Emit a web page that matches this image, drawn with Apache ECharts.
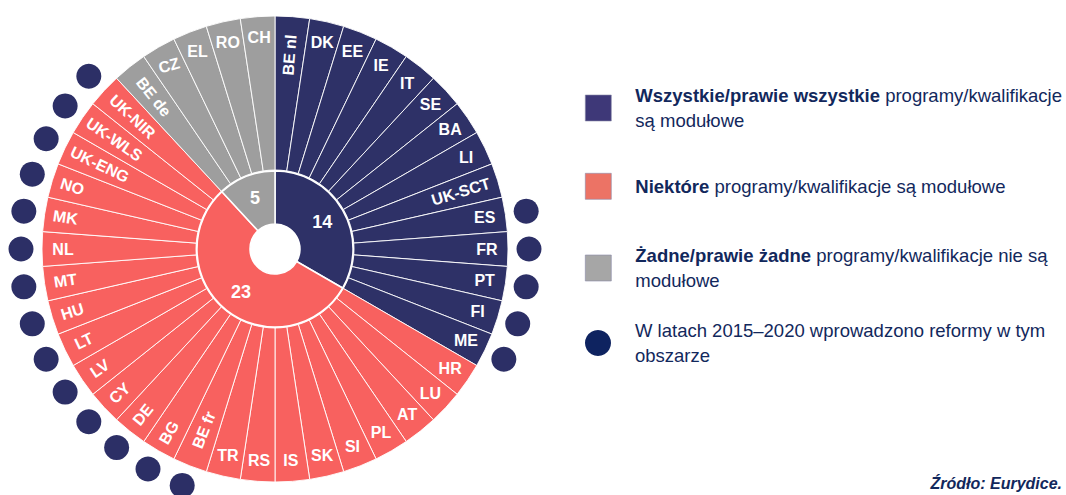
<!DOCTYPE html>
<html>
<head>
<meta charset="utf-8">
<script src="https://cdn.jsdelivr.net/npm/echarts@6/dist/echarts.min.js"></script>
<style>
html,body{margin:0;padding:0;background:#fff;}
#chart{width:1066px;height:495px;}
</style>
</head>
<body>
<div id="chart"></div>
<script>
// ---- data ----
const allModular = ['BE nl','DK','EE','IE','IT','SE','BA','LI','UK-SCT','ES','FR','PT','FI','ME'];
const someModular = ['HR','LU','AT','PL','SI','SK','IS','RS','TR','BE fr','BG','DE','CY','LV','LT','HU','MT','NL','MK','NO','UK-ENG','UK-WLS','UK-NIR'];
const noneModular = ['BE de','CZ','EL','RO','CH'];
const reformCountries = ['ES','FR','PT','FI','ME','BE fr','BG','DE','CY','LV','LT','HU','MT','NL','MK','NO','UK-ENG','UK-WLS','UK-NIR'];
const groupBold = ['Wszystkie/prawie wszystkie','Niektóre','Żadne/prawie żadne'];
const groupRest = [' programy/kwalifikacje\nsą modułowe',' programy/kwalifikacje są modułowe',' programy/kwalifikacje nie są\nmodułowe'];
const reformLabel = 'W latach 2015–2020 wprowadzono reformy w tym\nobszarze';
const sourceText = 'Źródło: Eurydice.';

// ---- styles ----
const FONT = "'Liberation Sans', Arial, sans-serif";
const sliceColors = ['#2e3167', '#f8615f', '#9e9e9e'];
const legendColors = ['#3e3878', '#ec7365', '#a6a6a6'];
const dotColor = '#2c2f66';
const textColor = '#12285c';
const CENTER = [275, 249];
const labelRotate = {
  'BE nl':'radial','UK-SCT':'radial','BE fr':'radial','BG':'radial','DE':'radial','CY':'radial',
  'LV':'radial','LT':'radial','HU':'radial','MT':'radial','NL':'radial','MK':'radial','NO':'radial',
  'UK-ENG':'radial','UK-WLS':'radial','UK-NIR':'radial','BE de':'radial','CZ':15
};

const groups = [allModular, someModular, noneModular];
const countries = [].concat(allModular, someModular, noneModular);
const groupIndex = {};
groups.forEach((g, gi) => g.forEach(c => groupIndex[c] = gi));

const outerData = countries.map(c => ({
  name: c, value: 1, itemStyle: { color: sliceColors[groupIndex[c]] }
}));
function labelData(isLong) {
  return countries.map(c => {
    const long = c.length > 2;
    return {
      name: c, value: 1,
      label: { show: long === isLong, rotate: labelRotate[c] !== undefined ? labelRotate[c] : 0 }
    };
  });
}
const innerData = groups.map((g, gi) => ({
  name: groupBold[gi], value: g.length, itemStyle: { color: sliceColors[gi] }
}));

const labelSeriesBase = {
  type: 'pie', center: CENTER, silent: true, z: 4,
  avoidLabelOverlap: false, emphasis: { disabled: true },
  itemStyle: { color: 'rgba(0,0,0,0)', borderWidth: 0 },
  labelLine: { show: false },
  label: { position: 'inside', color: '#fff', fontWeight: 'bold', fontSize: 16, fontFamily: FONT }
};

function makeLegend(name, top, icon, color) {
  return {
    top: top, left: 585, padding: 0, orient: 'vertical',
    itemWidth: 26, itemHeight: 26, icon: icon, selectedMode: false,
    data: [{ name: name, icon: icon, itemStyle: { color: color, opacity: 1, borderColor: '#8a8aa8', borderWidth: icon === 'rect' ? 0.6 : 0 } }],
    formatter: function (n) {
      const idx = groupBold.indexOf(n);
      if (idx >= 0) return '{b|' + n + '}' + groupRest[idx];
      return n;
    },
    textStyle: {
      fontFamily: FONT, fontSize: 18.5, color: textColor, lineHeight: 25, padding: [0, 0, 0, 19],
      rich: { b: { fontFamily: FONT, fontSize: 18.5, fontWeight: 'bold', color: textColor, lineHeight: 25 } }
    }
  };
}

const chart = echarts.init(document.getElementById('chart'), null, { renderer: 'svg' });
chart.setOption({
  animation: false,
  backgroundColor: '#fff',
  title: {
    text: sourceText, right: 4, top: 475, padding: 0,
    textStyle: { fontFamily: FONT, fontSize: 16, fontStyle: 'italic', fontWeight: 'bold', color: textColor }
  },
  legend: [
    makeLegend(groupBold[0], 83, 'rect', legendColors[0]),
    makeLegend(groupBold[1], 173, 'rect', legendColors[1]),
    makeLegend(groupBold[2], 243, 'rect', legendColors[2]),
    makeLegend(reformLabel, 318, 'circle', '#0e2360')
  ],
  polar: { center: CENTER, radius: [0, 270] },
  radiusAxis: { type: 'value', min: 0, max: 270, show: false },
  angleAxis: { type: 'category', data: countries, startAngle: 90, clockwise: true, show: false },
  series: [
    {
      name: 'groups', type: 'pie', center: CENTER, radius: [25, 78], silent: true,
      avoidLabelOverlap: false, emphasis: { disabled: true }, z: 3,
      data: innerData,
      itemStyle: { borderColor: '#fff', borderWidth: 1.5 },
      labelLine: { show: false },
      label: { show: true, position: 'inside', formatter: '{c}', color: '#fff', fontWeight: 'bold', fontSize: 18, fontFamily: FONT }
    },
    {
      name: 'countries', type: 'pie', center: CENTER, radius: [79, 233], silent: true,
      avoidLabelOverlap: false, emphasis: { disabled: true }, z: 2,
      data: outerData,
      itemStyle: { borderColor: 'rgba(255,255,255,0.9)', borderWidth: 1 },
      label: { show: false }, labelLine: { show: false }
    },
    Object.assign({}, labelSeriesBase, { name: 'labelsShort', radius: [185, 233], data: labelData(false) }),
    Object.assign({}, labelSeriesBase, { name: 'labelsLong', radius: [150, 233], data: labelData(true) }),
    {
      name: reformLabel, type: 'scatter', coordinateSystem: 'polar', silent: true,
      symbol: 'circle', symbolSize: 25, itemStyle: { color: dotColor, opacity: 1 },
      data: reformCountries.map(c => [254, countries.indexOf(c)])
    }
  ]
});
</script>
</body>
</html>
